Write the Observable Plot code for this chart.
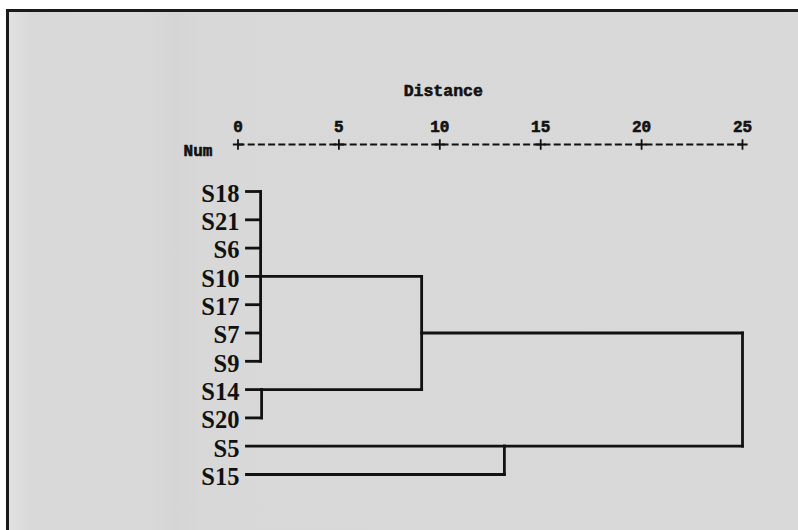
<!DOCTYPE html>
<html>
<head>
<meta charset="utf-8">
<script src="https://cdn.jsdelivr.net/npm/d3@7"></script>
<script src="https://cdn.jsdelivr.net/npm/@observablehq/plot@0.6"></script>
<style>
  html, body { margin: 0; padding: 0; background: #ffffff; width: 798px; height: 530px; overflow: hidden; }
  #paper {
    position: absolute; left: 6px; top: 9px; width: 792px; height: 521px;
    border-top: 3px solid #1a1a1a; border-left: 3px solid #1a1a1a; box-sizing: border-box;
    background: linear-gradient(to right, #e1e1e1 0px, #d8d8d8 25px, #d9d9d9 60px, #d9d9d9 140px, #d5d5d5 165px, #d8d8d8 195px, #d9d9d9 100%);
  }
  #chart { position: absolute; left: 0; top: 0; }
  #chart svg { background: transparent; }
</style>
</head>
<body>
<div id="paper"></div>
<div id="chart"></div>
<script>
// ---- data ----
const leaves = ["S18", "S21", "S6", "S10", "S17", "S7", "S9", "S14", "S20", "S5", "S15"];
const mergeNames = ["A", "B", "C", "D", "Root"];
const mergeChildren = [
  ["S18", "S21", "S6", "S10", "S17", "S7", "S9"],
  ["S14", "S20"],
  ["A", "B"],
  ["S5", "S15"],
  ["C", "D"]
];
const mergeHeights = [1.12, 1.17, 9.1, 13.2, 25];
const ticks = [0, 5, 10, 15, 20, 25];
const axisTitle = "Distance";
const rowTitle = "Num";

// ---- layout constants ----
const LEAF_START = 0.42;   // where leaf stubs begin (distance units)
const AXIS_ROW = -1.661;   // row of the dashed distance ruler

// build dendrogram segments from the merge table
const pos = new Map();
leaves.forEach((l, i) => pos.set(l, {row: i, x: LEAF_START}));
const segments = [];
mergeNames.forEach((name, k) => {
  const h = mergeHeights[k];
  const kids = mergeChildren[k].map(c => pos.get(c));
  kids.forEach(c => segments.push({x1: c.x, y1: c.row, x2: h, y2: c.row}));
  const rows = kids.map(c => c.row);
  segments.push({x1: h, y1: d3.min(rows), x2: h, y2: d3.max(rows)});
  pos.set(name, {row: Math.floor(d3.mean(rows)), x: h});
});
const leafData = leaves.map((l, i) => ({name: l, row: i}));

const mono = "'Liberation Mono', 'DejaVu Sans Mono', monospace";
const serif = "'Liberation Serif', 'Times New Roman', serif";
const monoStyle = {fontFamily: mono, fontWeight: "bold", fill: "#111", stroke: "#111", strokeWidth: 0.6};

const chart = Plot.plot({
  width: 798,
  height: 530,
  marginLeft: 237.5,
  marginRight: 56,
  marginTop: 144,
  marginBottom: 56,
  style: {background: "transparent", color: "#111"},
  x: {domain: [0, 25], axis: null},
  y: {domain: [AXIS_ROW, 10], reverse: true, axis: null},
  marks: [
    // distance ruler
    Plot.ruleY([AXIS_ROW], {x1: 0, x2: 25, stroke: "#111", strokeWidth: 2.2, strokeDasharray: "7,3.2"}),
    Plot.dot(ticks, {x: d => d, y: AXIS_ROW, symbol: "plus", r: 3.4, stroke: "#111", strokeWidth: 1.8}),
    Plot.text(ticks, {x: d => d, y: AXIS_ROW, dy: -18, text: d => String(d), fontSize: 16, ...monoStyle}),
    Plot.text([axisTitle], {frameAnchor: "top", textAnchor: "middle", dx: -47, dy: -60, text: d => d,
      fontSize: 16.5, ...monoStyle}),
    Plot.text([rowTitle], {frameAnchor: "top-left", textAnchor: "middle", dx: -40, dy: 0, text: d => d,
      fontSize: 16, ...monoStyle}),
    // dendrogram
    Plot.link(segments, {x1: "x1", y1: "y1", x2: "x2", y2: "y2",
      stroke: "#111", strokeWidth: 2.8, strokeLinecap: "square"}),
    // leaf labels
    Plot.text(leafData, {x: LEAF_START, y: "row", text: "name", textAnchor: "end", dx: -7, dy: 2.5,
      fontFamily: serif, fontWeight: "bold", fontSize: 24.5, fill: "#111"})
  ]
});
document.getElementById("chart").appendChild(chart);
</script>
</body>
</html>
